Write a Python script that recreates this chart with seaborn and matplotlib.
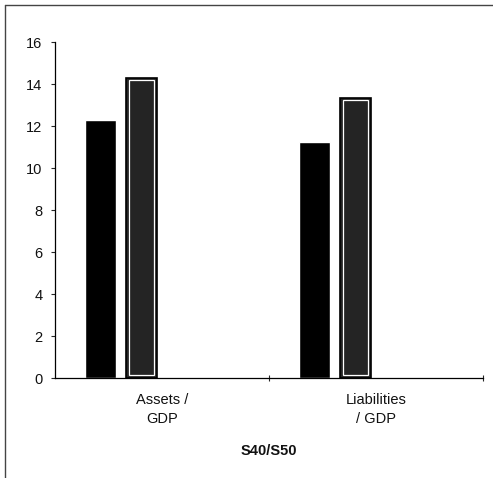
import matplotlib as mpl
mpl.use("Agg")
import matplotlib.pyplot as plt
from matplotlib.lines import Line2D
from matplotlib.patches import Rectangle
import pandas as pd
import seaborn as sns

# %% data
categories = ["Assets /\nGDP", "Liabilities\n/ GDP"]
series = ["S1", "S2", "S3", "S4"]
s1_vals = [12.3, 11.25]
s2_vals = [14.3, 13.35]
s3_vals = [None, None]
s4_vals = [None, None]

rows = []
for s, vals in zip(series, [s1_vals, s2_vals, s3_vals, s4_vals]):
    for c, v in zip(categories, vals):
        rows.append({"cat": c, "series": s, "val": v})
df = pd.DataFrame(rows)

# %% plot
sns.set_style("white")
plt.rcParams['font.family'] = ['Liberation Sans', 'DejaVu Sans']

fig = plt.figure(figsize=(4.93, 4.78), dpi=100)
ax = fig.add_axes([0.1116, 0.2092, 0.8684, 0.7028])

pal = {"S1": "black", "S2": "#242424", "S3": "white", "S4": "white"}
sns.barplot(data=df, x="cat", y="val", hue="series", hue_order=series,
            palette=pal, width=0.77, gap=0.25, saturation=1,
            legend=False, ax=ax, errorbar=None)

# second series: black outline + inner white line, dark speckled fill
n = len(categories)
for p in ax.patches[n:2 * n]:
    p.set_edgecolor("black")
    p.set_linewidth(1.2)
    x0, y0 = p.get_x(), p.get_y()
    w, h = p.get_width(), p.get_height()
    dx, dy = w * 0.1, 0.12
    ax.add_patch(Rectangle((x0 + dx, y0 + dy), w - 2 * dx, h - 2 * dy,
                           fill=False, edgecolor="white", linewidth=0.9,
                           zorder=p.get_zorder() + 0.1))

fs = 10.5
ax.set_ylim(0, 16)
ax.set_xlim(-0.5, 1.5)
ax.set_yticks(range(0, 17, 2))
ax.tick_params(axis="y", left=True, direction="out", length=3, width=0.8,
               labelsize=fs, pad=6, labelcolor="#111111")
ax.set_xticks([0, 1])
ax.set_xticklabels(categories)
ax.set_xticks([0.5, 1.5], minor=True)
ax.tick_params(axis="x", which="major", length=0, labelsize=fs, pad=11,
               labelcolor="#111111")
ax.tick_params(axis="x", which="minor", bottom=True, direction="inout",
               length=5, width=0.8)
for lab in ax.get_xticklabels():
    lab.set_linespacing(1.45)

sns.despine(ax=ax, top=True, right=True)
for s in ["left", "bottom"]:
    ax.spines[s].set_color("black")
    ax.spines[s].set_linewidth(0.9)

ax.set_ylabel("")
ax.set_xlabel("S40/S50", fontsize=fs, fontweight="bold", labelpad=13,
              color="#111111")

# scanned frame: top and left edges
fig.add_artist(Line2D([0.01, 1.0], [0.989, 0.989], color="#444444",
                      linewidth=1.0, transform=fig.transFigure))
fig.add_artist(Line2D([0.011, 0.011], [0.0, 0.989], color="#444444",
                      linewidth=1.0, transform=fig.transFigure))

fig.savefig("out.png", dpi=100)
